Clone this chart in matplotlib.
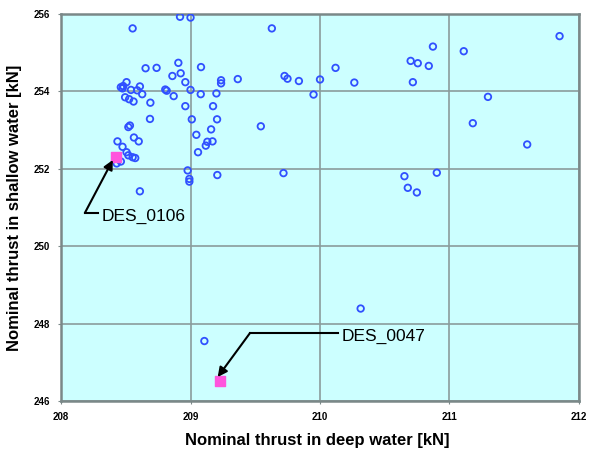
import matplotlib.pyplot as plt

# Nominal thrust values (deep water, shallow water) in kN
deep = [208.919, 209.000, 208.553, 209.628, 208.906, 208.653, 208.738, 209.081,
        208.924, 208.860, 208.960, 209.236, 209.236, 209.365, 209.726, 209.749,
        209.837, 210.000, 209.950,
        208.462, 208.480, 208.475, 208.506, 208.540, 208.609, 208.588, 208.627,
        208.495, 208.526, 208.560, 208.690, 208.805, 208.816, 208.870, 209.000,
        209.079, 209.200, 208.960, 209.174, 208.687, 209.010, 209.205, 208.532,
        208.520, 209.543, 209.159, 209.045, 208.563, 208.600, 208.436, 208.475,
        208.506, 208.520, 208.553, 208.573, 208.462, 208.430, 209.170, 209.130,
        209.118, 209.058, 208.978, 208.991, 208.991, 209.207, 209.718, 208.609,
        211.850, 210.872, 211.110, 210.700, 210.755, 210.840, 210.120, 210.265,
        210.717, 211.297, 211.180, 211.600, 210.652, 210.902, 210.678, 210.748,
        209.107, 210.314]
shallow = [255.93, 255.91, 255.63, 255.63, 254.74, 254.60, 254.61, 254.63,
           254.47, 254.40, 254.24, 254.29, 254.21, 254.32, 254.40, 254.33,
           254.27, 254.31, 253.92,
           254.11, 254.14, 254.08, 254.24, 254.04, 254.13, 254.03, 253.93,
           253.85, 253.80, 253.74, 253.71, 254.05, 254.02, 253.88, 254.04,
           253.93, 253.95, 253.62, 253.62, 253.29, 253.28, 253.28, 253.12,
           253.08, 253.10, 253.02, 252.88, 252.81, 252.71, 252.71, 252.57,
           252.43, 252.35, 252.30, 252.28, 252.19, 252.14, 252.71, 252.70,
           252.60, 252.43, 251.96, 251.74, 251.67, 251.84, 251.89, 251.42,
           255.43, 255.16, 255.04, 254.79, 254.73, 254.66, 254.61, 254.23,
           254.24, 253.86, 253.18, 252.63, 251.81, 251.90, 251.51, 251.39,
           247.55, 248.39]

# highlighted designs
sel_names = ["DES_0106", "DES_0047"]
sel_deep = [208.423, 209.228]
sel_shallow = [252.31, 246.52]

fig = plt.figure(figsize=(5.89, 4.54), dpi=100)
ax = fig.add_axes([0.1036, 0.1167, 0.8794, 0.8523])
ax.set_facecolor('#ccffff')

ax.scatter(deep, shallow, s=22, facecolors='none', edgecolors='#3050ff',
           linewidths=1.3, zorder=3)
ax.scatter(sel_deep, sel_shallow, s=60, marker='s', color='#ff55dd', zorder=4)

# callouts with elbow leader lines
ax.plot([208.184, 208.285], [250.86, 250.86], color='black', lw=1.5, zorder=5)
ax.annotate("", xy=(208.40, 252.23), xytext=(208.184, 250.86),
            arrowprops=dict(arrowstyle='-|>', color='black', lw=1.5,
                            mutation_scale=14, shrinkA=0, shrinkB=0), zorder=5)
ax.text(208.31, 250.78, sel_names[0], fontsize=12.5, va='center', ha='left',
        family='Liberation Sans')

ax.plot([209.46, 210.14], [247.76, 247.76], color='black', lw=1.5, zorder=5)
ax.annotate("", xy=(209.21, 246.62), xytext=(209.46, 247.76),
            arrowprops=dict(arrowstyle='-|>', color='black', lw=1.5,
                            mutation_scale=14, shrinkA=0, shrinkB=0), zorder=5)
ax.text(210.17, 247.68, sel_names[1], fontsize=12.5, va='center', ha='left',
        family='Liberation Sans')

ax.set_xlim(208, 212)
ax.set_ylim(246, 256)
ax.set_xticks([208, 209, 210, 211, 212])
ax.set_yticks([246, 248, 250, 252, 254, 256])
ax.grid(True, color='#8a9c9c', lw=1.2)
ax.set_axisbelow(True)
for sp in ax.spines.values():
    sp.set_color('#7a8888')
    sp.set_linewidth(1.8)
ax.tick_params(length=2, color='#7a8888', labelsize=7, pad=6)
for lab in ax.get_xticklabels() + ax.get_yticklabels():
    lab.set_fontweight('bold')
    lab.set_family('Liberation Sans')

ax.set_xlabel("Nominal thrust in deep water [kN]", fontsize=12, fontweight='bold',
              family='Liberation Sans', va='center')
ax.set_ylabel("Nominal thrust in shallow water [kN]", fontsize=12, fontweight='bold',
              family='Liberation Sans', va='center')
ax.xaxis.set_label_coords(0.495, -0.103)
ax.yaxis.set_label_coords(-0.089, 0.5)

fig.savefig('out.png', dpi=100)
